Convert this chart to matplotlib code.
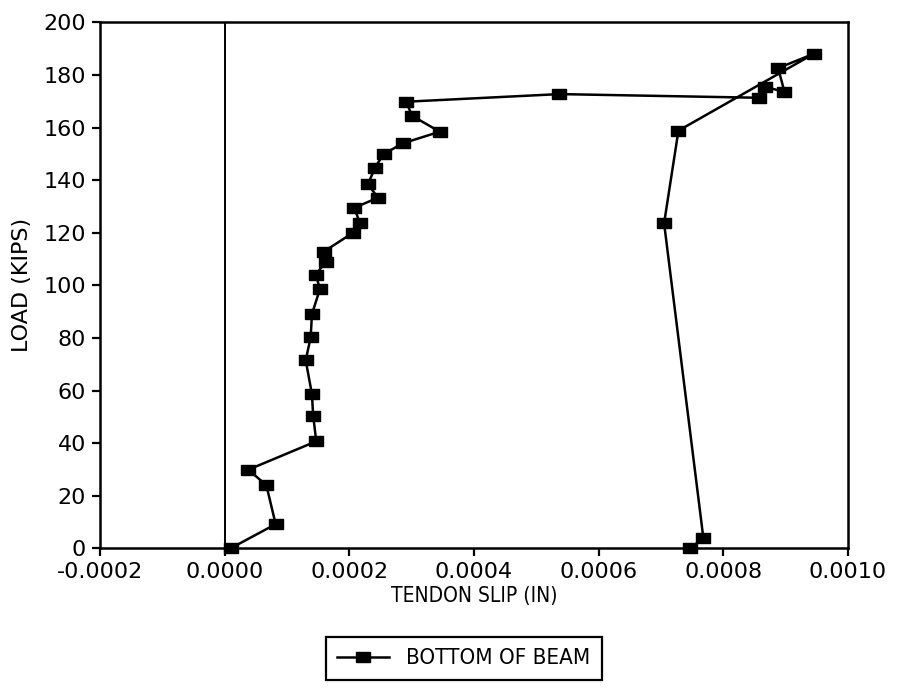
import matplotlib
matplotlib.use("Agg")
import matplotlib.pyplot as plt
from matplotlib.ticker import FormatStrFormatter

plt.rcParams['font.family'] = ['DejaVu Sans']
plt.rcParams['axes.unicode_minus'] = False

# Data: tendon slip (in) vs load (kips), in recorded order
slip = [0.0000096, 0.0000818, 0.0000669, 0.000038, 0.000147, 0.000142, 0.000140,
        0.000130, 0.000138, 0.000140, 0.000153, 0.000146, 0.000162, 0.000159,
        0.000206, 0.000217, 0.000208, 0.000246, 0.000230, 0.000241, 0.000255,
        0.000286, 0.000345, 0.000301, 0.000291, 0.000537, 0.000858, 0.000867,
        0.000898, 0.000888, 0.000945, 0.000728, 0.000705, 0.000768, 0.000747]
load = [0.0, 9.2, 24.0, 29.9, 40.7, 50.4, 58.7, 71.5, 80.2, 89.0, 98.7, 104.0,
        108.9, 112.8, 120.0, 123.6, 129.5, 133.3, 138.4, 144.7, 149.9, 154.0,
        158.4, 164.4, 169.8, 172.7, 171.3, 175.4, 173.6, 182.6, 188.0, 158.8,
        123.6, 3.9, 0.0]
series_label = "BOTTOM OF BEAM"
x_ticks = [-0.0002, 0.0, 0.0002, 0.0004, 0.0006, 0.0008, 0.0010]
y_ticks = [0, 20, 40, 60, 80, 100, 120, 140, 160, 180, 200]

fig = plt.figure(figsize=(9, 6.88), dpi=100)
ax = fig.add_axes([0.1111, 0.203, 0.8311, 0.7646])

rect = [(-1.4, -1), (1.4, -1), (1.4, 1), (-1.4, 1), (-1.4, -1)]
ax.plot(slip, load, color='black', lw=1.8, marker=rect, markersize=10,
        markerfacecolor='black', markeredgecolor='black', clip_on=False,
        zorder=3, label=series_label)
ax.axvline(0.0, color='black', lw=1.4, zorder=2)

ax.set_xlim(-0.0002, 0.0010)
ax.set_ylim(0, 200)
ax.set_xticks(x_ticks)
ax.set_yticks(y_ticks)
ax.xaxis.set_major_formatter(FormatStrFormatter('%.4f'))
ax.tick_params(direction='out', length=6, width=1.6, labelsize=16, pad=4)
for s in ax.spines.values():
    s.set_linewidth(1.8)

ax.set_xlabel("TENDON SLIP (IN)", fontsize=15, fontstretch='condensed', labelpad=3)
ax.set_ylabel("LOAD (KIPS)", fontsize=16, labelpad=8)

leg = fig.legend(loc='center', bbox_to_anchor=(0.5156, 0.0429),
                 frameon=True, fancybox=False, framealpha=1, handlelength=2.3,
                 borderpad=0.5, prop={'size': 16, 'stretch': 'condensed'})
leg.get_frame().set_edgecolor('black')
leg.get_frame().set_linewidth(1.6)

fig.savefig("out.png", dpi=100)
